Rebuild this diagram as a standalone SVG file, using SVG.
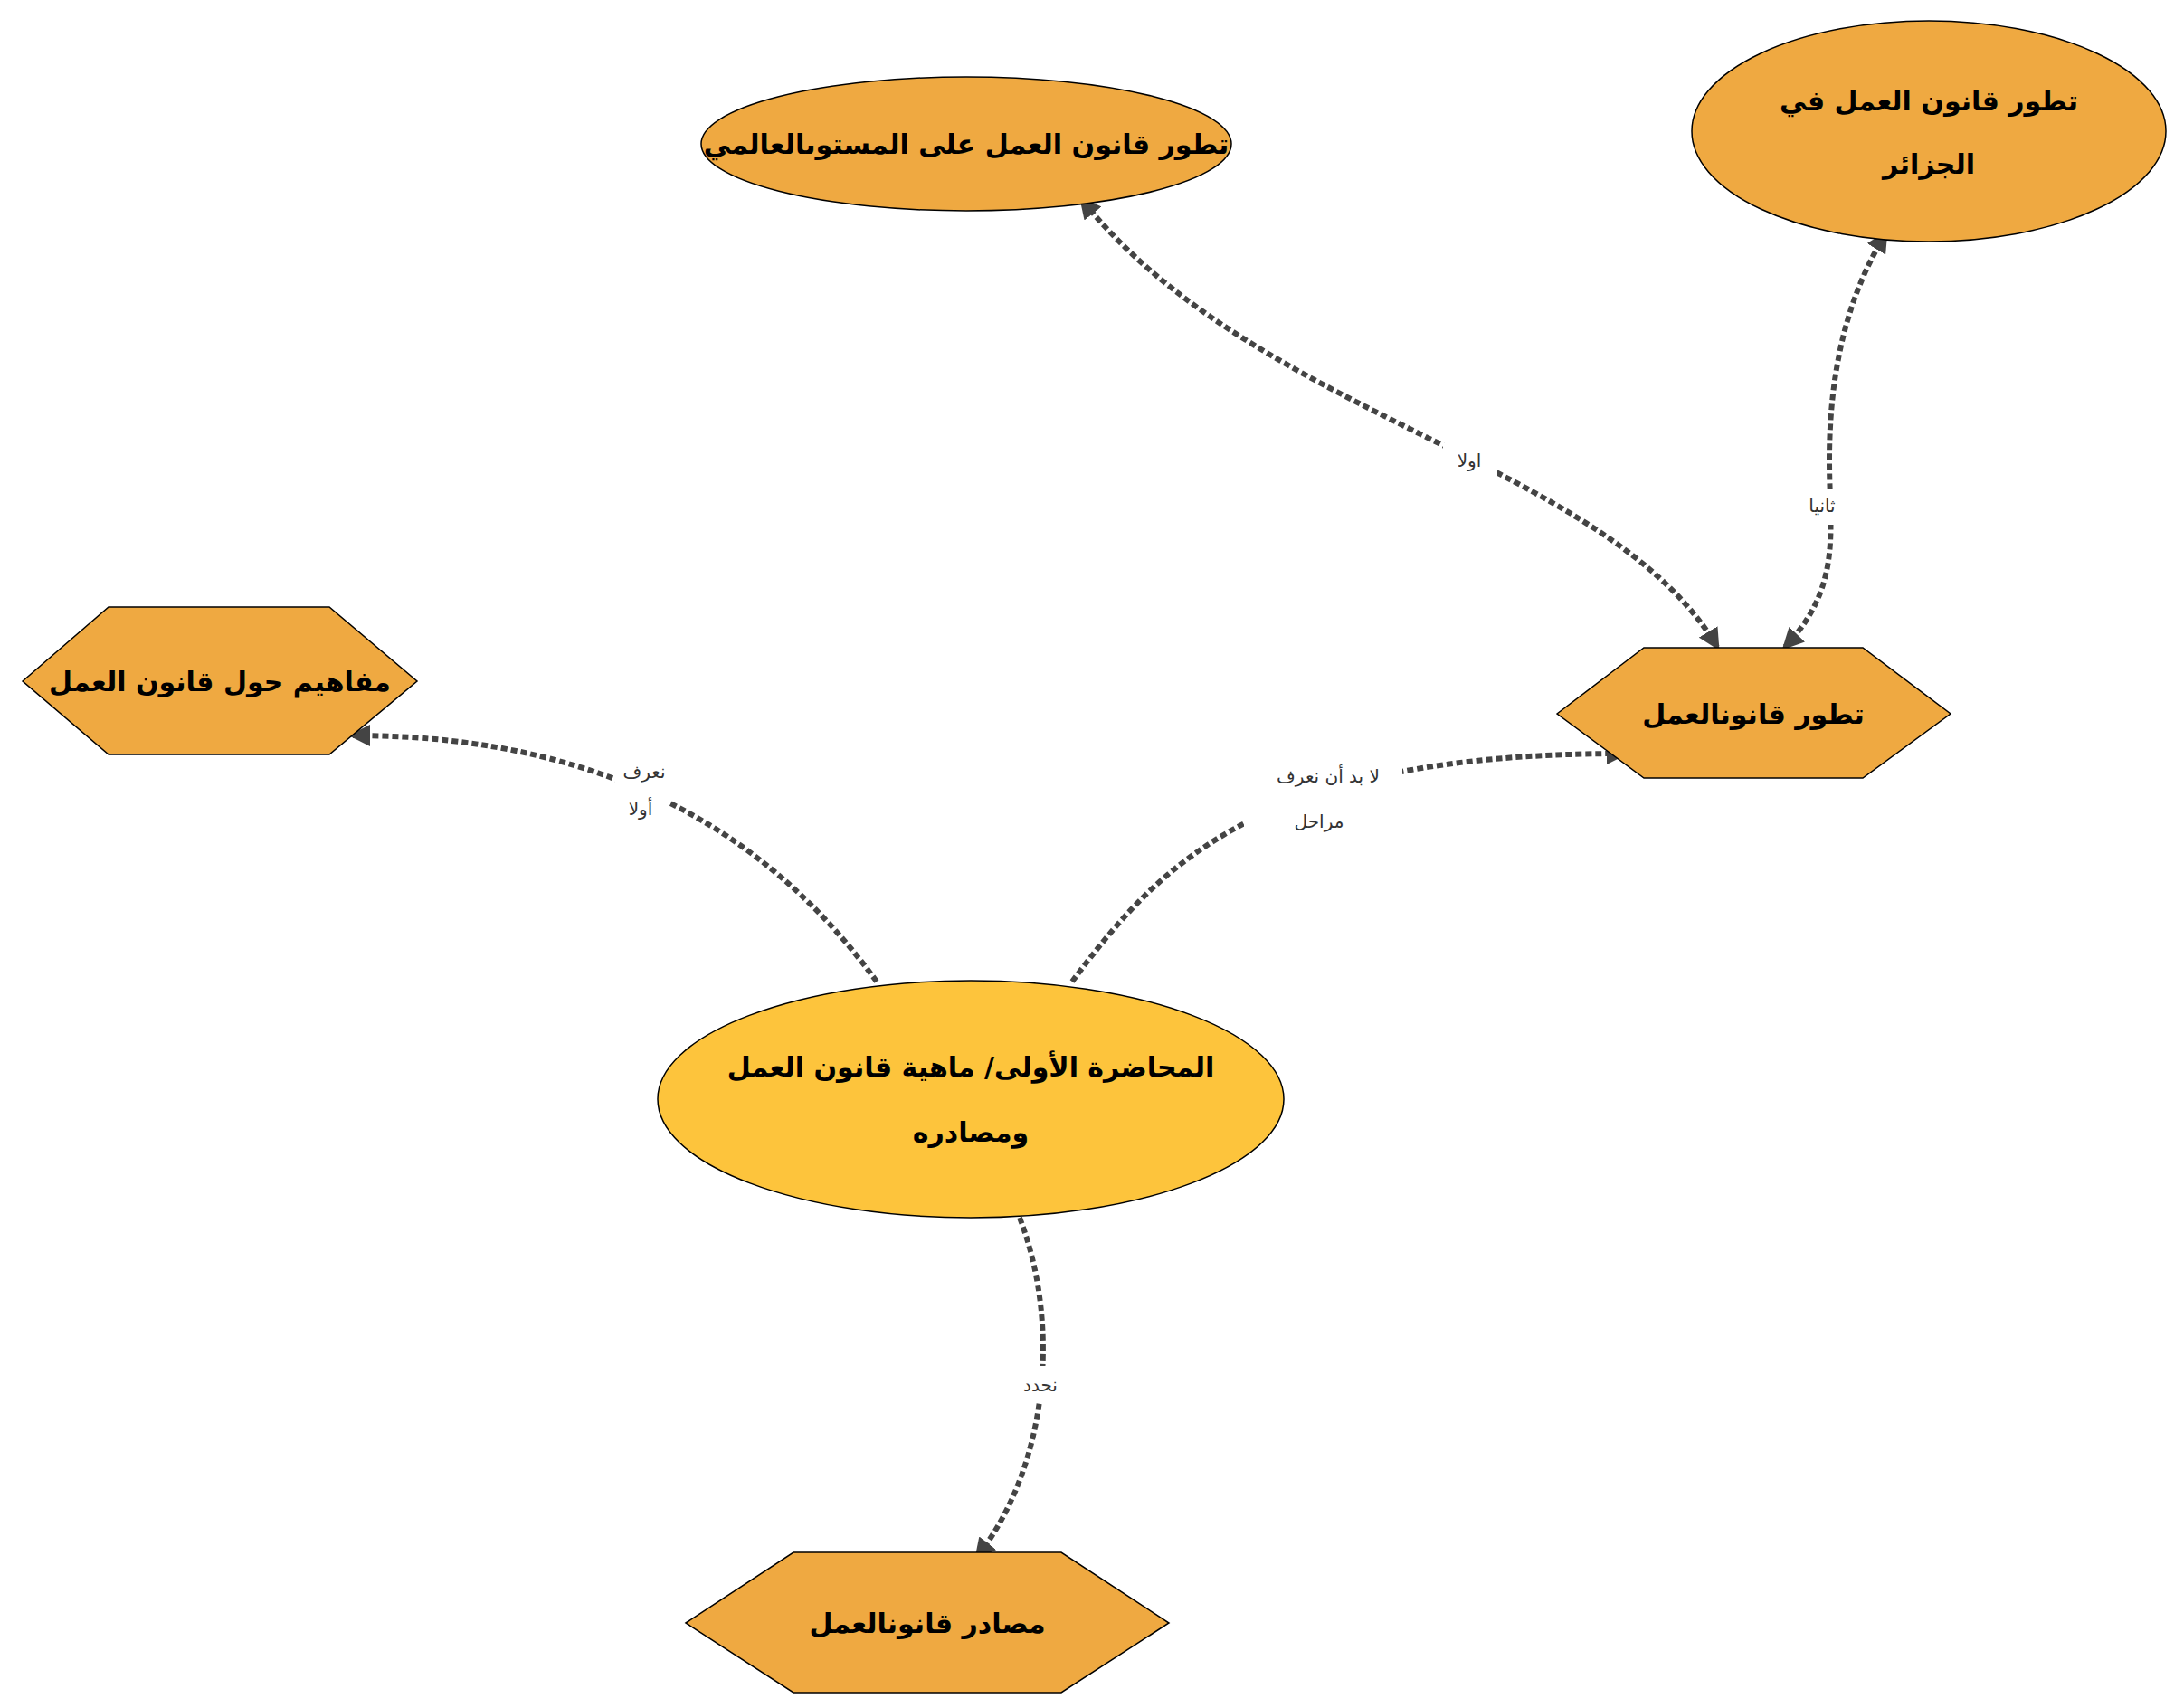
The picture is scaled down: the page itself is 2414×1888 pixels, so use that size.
<svg xmlns="http://www.w3.org/2000/svg" width="2414" height="1888" viewBox="0 0 2414 1888">
<style>
.n{fill:#efa941;stroke:#000;stroke-width:1.5}
.c{fill:#fdc43c;stroke:#000;stroke-width:1.5}
.t{font-family:"DejaVu Sans",sans-serif;font-weight:bold;font-size:30px;fill:#000;text-anchor:middle;direction:rtl}
.e{fill:none;stroke:#444;stroke-width:6;stroke-dasharray:7 4}
.l{font-family:"DejaVu Sans",sans-serif;font-size:20px;fill:#333;text-anchor:middle;direction:rtl}
.bg{fill:#fff}
</style>
<defs>
<marker id="a" viewBox="0 0 10 10" refX="8" refY="5" markerWidth="4" markerHeight="4" orient="auto-start-reverse" markerUnits="strokeWidth">
<path d="M0,0 L10,5 L0,10 z" fill="#444"/>
</marker>
</defs>
<rect width="2414" height="1888" fill="#fff"/>
<g id="connectors">
<path class="e" d="M969,1085 C864,941 695,813 390,813" marker-end="url(#a)"/>
<path class="e" d="M1185,1085 C1281,957 1389,833 1795,833" marker-end="url(#a)"/>
<path class="e" d="M1127,1346 C1173,1466 1158,1621 1080,1721" marker-end="url(#a)"/>
<path class="e" d="M1898,715 C1775,509 1389,463 1196,221" marker-start="url(#a)" marker-end="url(#a)"/>
<path class="e" d="M1973,715 C2037,648 2022,587 2022,509 C2022,386 2053,309 2084,259" marker-start="url(#a)" marker-end="url(#a)"/>
<rect class="bg" x="680" y="835" width="60" height="80"/>
<text class="l" x="712" y="860">نعرف</text>
<text class="l" x="708" y="901">أولا</text>
<rect class="bg" x="1375" y="835" width="175" height="95"/>
<text class="l" x="1468" y="865">لا بد أن نعرف</text>
<text class="l" x="1458" y="915">مراحل</text>
<rect class="bg" x="1125" y="1510" width="50" height="40"/>
<text class="l" x="1150" y="1538">نحدد</text>
<rect class="bg" x="1595" y="490" width="60" height="40"/>
<text class="l" x="1624" y="516">اولا</text>
<rect class="bg" x="1985" y="540" width="60" height="40"/>
<text class="l" x="2014" y="566">ثانيا</text>
</g>
<g id="node-world"><ellipse class="n" cx="1068" cy="159" rx="293" ry="74"/><text class="t" x="1068" y="170">تطور قانون العمل على المستوىالعالمي</text></g>
<g id="node-algeria"><ellipse class="n" cx="2132" cy="145" rx="262" ry="122"/><text class="t" x="2132" y="122">تطور قانون العمل في</text><text class="t" x="2132" y="192">الجزائر</text></g>
<g id="node-concepts"><polygon class="n" points="25,753 120,671 364,671 461,753 364,834 120,834"/><text class="t" x="243" y="764">مفاهيم حول قانون العمل</text></g>
<g id="node-evolution"><polygon class="n" points="1721,789 1817,716 2059,716 2156,789 2059,860 1817,860"/><text class="t" x="1938" y="800">تطور قانونالعمل</text></g>
<g id="node-center"><ellipse class="c" cx="1073" cy="1215" rx="346" ry="131"/><text class="t" x="1073" y="1190">المحاضرة الأولى/ ماهية قانون العمل</text><text class="t" x="1073" y="1262">ومصادره</text></g>
<g id="node-sources"><polygon class="n" points="758,1794 877,1716 1173,1716 1292,1794 1173,1871 877,1871"/><text class="t" x="1025" y="1805">مصادر قانونالعمل</text></g>
</svg>
